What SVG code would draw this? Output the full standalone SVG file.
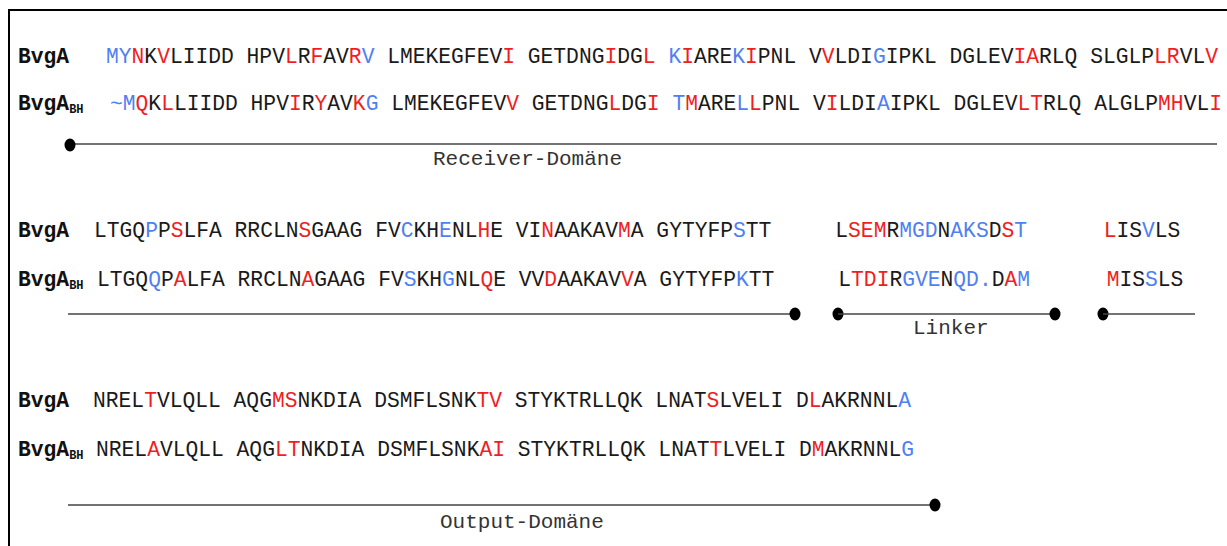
<svg xmlns="http://www.w3.org/2000/svg" width="1227" height="546" viewBox="0 0 1227 546">
  <style>
    .seq { font-family: "Liberation Mono", "Courier New", monospace; font-size: 21.3px; fill: #1a1a1a; }
    .name { font-family: "Liberation Mono", "Courier New", monospace; font-size: 21.3px; font-weight: bold; fill: #111; }
    .sub { font-size: 12px; font-weight: bold; }
    .r { fill: #f01e1e; }
    .b { fill: #4f7ff2; }
    .dom { font-family: "Liberation Mono", "Courier New", monospace; font-size: 21px; fill: #333; }
    .bar { stroke: #444; stroke-width: 1.6; fill: none; }
    .dot { fill: #000; }
  </style>

  <!-- outer frame -->
  <path d="M9,546 V10 H1227" fill="none" stroke="#000" stroke-width="2"/>

  <!-- block 1: residues 1-87 -->
  <g id="block1">
    <g id="row1-bvga">
      <text class="name" x="18" y="63">BvgA</text>
      <text class="seq" x="106" y="63" xml:space="preserve"><tspan class="b">MY</tspan><tspan class="r">N</tspan>K<tspan class="r">V</tspan>LIIDD HPV<tspan class="r">L</tspan>R<tspan class="r">F</tspan>AV<tspan class="r">R</tspan><tspan class="b">V</tspan> LMEKEGFEV<tspan class="r">I</tspan> GETDNG<tspan class="r">I</tspan>DG<tspan class="r">L</tspan> <tspan class="b">K</tspan><tspan class="r">I</tspan>ARE<tspan class="b">K</tspan><tspan class="r">I</tspan>PNL V<tspan class="r">V</tspan>LDI<tspan class="b">G</tspan>IPKL DGLEV<tspan class="r">IA</tspan>RLQ SLGLP<tspan class="r">LR</tspan>VL<tspan class="r">V</tspan></text>
    </g>
    <g id="row1-bvgabh">
      <text class="name" x="18" y="110">BvgA<tspan class="sub" dy="3">BH</tspan></text>
      <text class="seq" x="110" y="110" xml:space="preserve"><tspan class="b">~M</tspan><tspan class="r">Q</tspan>K<tspan class="r">L</tspan>LIIDD HPV<tspan class="r">I</tspan>R<tspan class="r">Y</tspan>AV<tspan class="r">K</tspan><tspan class="b">G</tspan> LMEKEGFEV<tspan class="r">V</tspan> GETDNG<tspan class="r">L</tspan>DG<tspan class="r">I</tspan> <tspan class="b">T</tspan><tspan class="r">M</tspan>ARE<tspan class="b">L</tspan><tspan class="r">L</tspan>PNL V<tspan class="r">I</tspan>LDI<tspan class="b">A</tspan>IPKL DGLEV<tspan class="r">LT</tspan>RLQ ALGLP<tspan class="r">MH</tspan>VL<tspan class="r">I</tspan></text>
    </g>
  </g>

  <!-- block 2 -->
  <g id="block2">
    <g id="row2-bvga">
      <text class="name" x="18" y="237">BvgA</text>
      <text class="seq" x="94" y="237" xml:space="preserve">LTGQ<tspan class="b">P</tspan>P<tspan class="r">S</tspan>LFA RRCLN<tspan class="r">S</tspan>GAAG FV<tspan class="b">C</tspan>KH<tspan class="b">E</tspan>NL<tspan class="r">H</tspan>E VI<tspan class="r">N</tspan>AAKAV<tspan class="r">M</tspan>A GYTYFP<tspan class="b">S</tspan>TT     L<tspan class="r">SEM</tspan>R<tspan class="b">MGD</tspan>N<tspan class="b">AKS</tspan>D<tspan class="r">S</tspan><tspan class="b">T</tspan>      <tspan class="r">L</tspan>IS<tspan class="b">V</tspan>LS</text>
    </g>
    <g id="row2-bvgabh">
      <text class="name" x="18" y="286">BvgA<tspan class="sub" dy="3">BH</tspan></text>
      <text class="seq" x="97" y="286" xml:space="preserve">LTGQ<tspan class="b">Q</tspan>P<tspan class="r">A</tspan>LFA RRCLN<tspan class="r">A</tspan>GAAG FV<tspan class="b">S</tspan>KH<tspan class="b">G</tspan>NL<tspan class="r">Q</tspan>E VV<tspan class="r">D</tspan>AAKAV<tspan class="r">V</tspan>A GYTYFP<tspan class="b">K</tspan>TT     L<tspan class="r">TDI</tspan>R<tspan class="b">GVE</tspan>N<tspan class="b">QD.</tspan>D<tspan class="r">A</tspan><tspan class="b">M</tspan>      <tspan class="r">M</tspan>IS<tspan class="b">S</tspan>LS</text>
    </g>
  </g>

  <!-- block 3 -->
  <g id="block3">
    <g id="row3-bvga">
      <text class="name" x="18" y="407">BvgA</text>
      <text class="seq" x="93" y="407" xml:space="preserve">NREL<tspan class="r">T</tspan>VLQLL AQG<tspan class="r">MS</tspan>NKDIA DSMFLSNK<tspan class="r">TV</tspan> STYKTRLLQK LNAT<tspan class="r">S</tspan>LVELI D<tspan class="r">L</tspan>AKRNNL<tspan class="b">A</tspan></text>
    </g>
    <g id="row3-bvgabh">
      <text class="name" x="18" y="456">BvgA<tspan class="sub" dy="3">BH</tspan></text>
      <text class="seq" x="96" y="456" xml:space="preserve">NREL<tspan class="r">A</tspan>VLQLL AQG<tspan class="r">LT</tspan>NKDIA DSMFLSNK<tspan class="r">AI</tspan> STYKTRLLQK LNAT<tspan class="r">T</tspan>LVELI D<tspan class="r">M</tspan>AKRNNL<tspan class="b">G</tspan></text>
    </g>
  </g>

  <!-- domain bars -->
  <g id="domain-bars">
    <line class="bar" x1="70" y1="144" x2="1217" y2="144"/>
    <ellipse class="dot" cx="70" cy="145" rx="5.5" ry="6.5"/>

    <line class="bar" x1="68" y1="314" x2="795" y2="314"/>
    <ellipse class="dot" cx="795" cy="314" rx="5.5" ry="6.5"/>
    <ellipse class="dot" cx="838" cy="314" rx="5.5" ry="6.5"/>
    <line class="bar" x1="838" y1="314" x2="1055" y2="314"/>
    <ellipse class="dot" cx="1055" cy="314" rx="5.5" ry="6.5"/>
    <ellipse class="dot" cx="1103" cy="314" rx="5.5" ry="6.5"/>
    <line class="bar" x1="1103" y1="314" x2="1195" y2="314"/>

    <line class="bar" x1="68" y1="505" x2="935" y2="505"/>
    <ellipse class="dot" cx="935" cy="505" rx="5.5" ry="6.5"/>
  </g>

  <!-- domain labels -->
  <g id="label-receiver"><text class="dom" x="433" y="165">Receiver-Domäne</text></g>
  <g id="label-linker"><text class="dom" x="913" y="334">Linker</text></g>
  <g id="label-output"><text class="dom" x="440" y="528">Output-Domäne</text></g>
</svg>
